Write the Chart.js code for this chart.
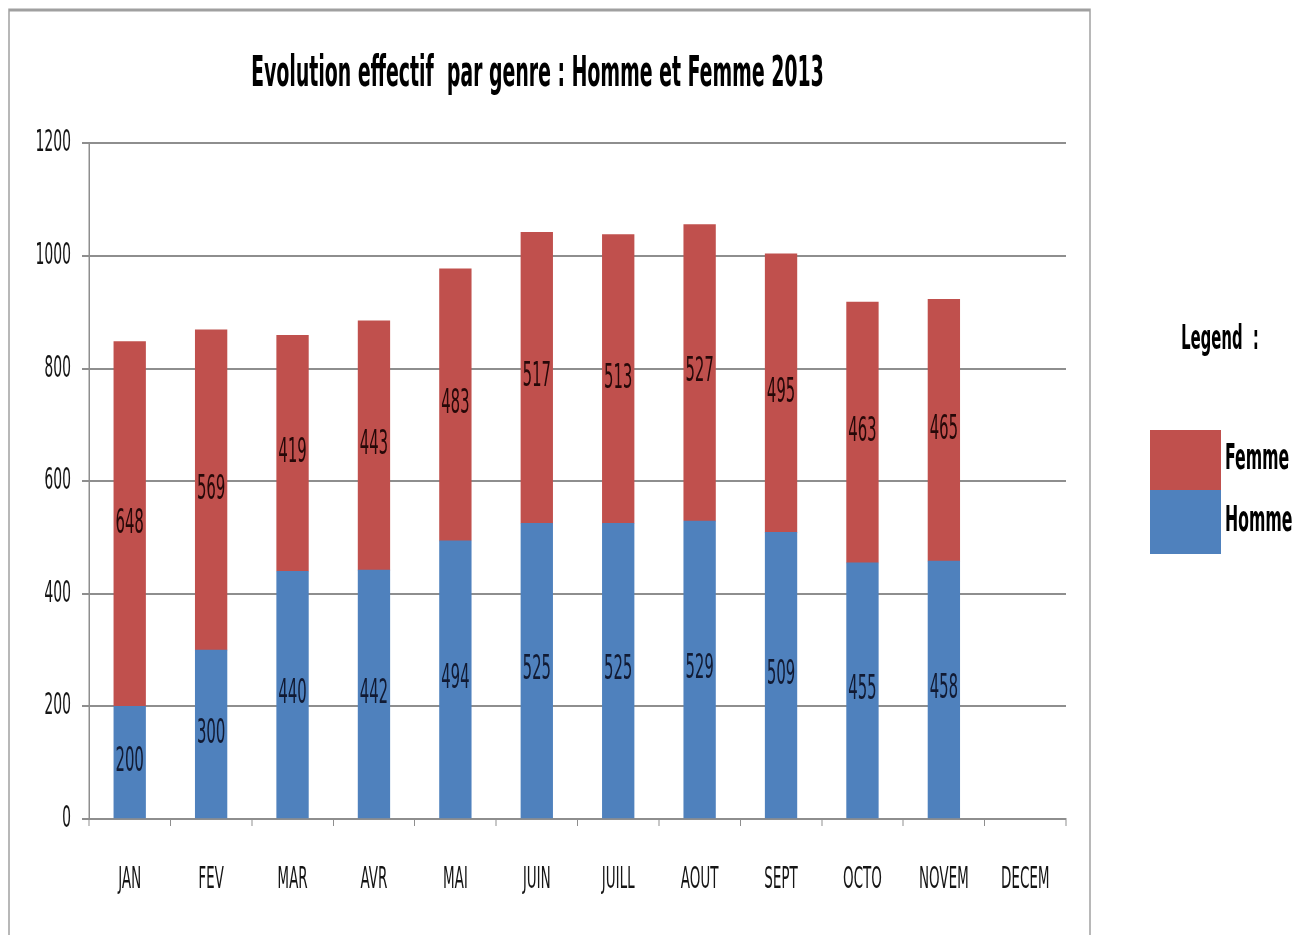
<!DOCTYPE html>
<html>
<head>
<meta charset="utf-8">
<title>Evolution effectif par genre 2013</title>
<script src="https://cdn.jsdelivr.net/npm/chart.js@4/dist/chart.umd.min.js"></script>
<style>
  body { margin: 0; background: #fff; }
  #wrap { width: 1309px; height: 935px; overflow: hidden; }
  /* the chart is drawn twice as wide and squeezed back, giving tall narrow lettering */
  #chart { display: block; width: 1309px; height: 935px; }
</style>
</head>
<body>
<div id="wrap"><canvas id="chart" width="2618" height="935" style="width:1309px;height:935px"></canvas></div>
<script>
const months = ['JAN', 'FEV', 'MAR', 'AVR', 'MAI', 'JUIN', 'JUILL', 'AOUT', 'SEPT', 'OCTO', 'NOVEM', 'DECEM'];
const homme = [200, 300, 440, 442, 494, 525, 525, 529, 509, 455, 458, null];
const femme = [648, 569, 419, 443, 483, 517, 513, 527, 495, 463, 465, null];
const yTicks = [0, 200, 400, 600, 800, 1000, 1200];

const FONT = '"DejaVu Sans Condensed", "DejaVu Sans", sans-serif';
const GRID = '#8e8e8e';
const SX = 2; // horizontal stretch of the drawing canvas

// outer frame around the chart
const frame = {
    id: 'frame',
    beforeDraw(chart) {
        const c = chart.ctx;
        c.save();
        c.strokeStyle = '#a0a0a0';
        c.lineWidth = 3;
        c.strokeRect(9 * SX, 10, 1081 * SX, 940);
        c.restore();
    }
};

// value written in the middle of each bar segment
const valueLabels = {
    id: 'valueLabels',
    afterDatasetsDraw(chart) {
        const c = chart.ctx;
        c.save();
        c.font = '33px ' + FONT;
        c.textAlign = 'center';
        c.textBaseline = 'middle';
        chart.data.datasets.forEach((ds, i) => {
            chart.getDatasetMeta(i).data.forEach((bar, j) => {
                const v = ds.data[j];
                if (v == null) return;
                c.fillStyle = ds.labelColor;
                c.fillText(v, bar.x, (bar.y + bar.base) / 2);
            });
        });
        c.restore();
    }
};

// legend box on the right, Femme stacked over Homme
const sideLegend = {
    id: 'sideLegend',
    afterDraw(chart) {
        const c = chart.ctx;
        c.save();
        c.fillStyle = '#000';
        c.font = 'bold 33px ' + FONT;
        c.textAlign = 'center';
        c.textBaseline = 'middle';
        c.fillText('Legend  :', 1220 * SX, 340);
        const items = chart.data.datasets.slice().reverse();
        const h = [60, 64];
        let y = 430;
        items.forEach((ds, i) => {
            c.fillStyle = ds.backgroundColor;
            c.fillRect(1150 * SX, y, 71 * SX, h[i]);
            c.fillStyle = '#000';
            c.font = 'bold 35px ' + FONT;
            c.textAlign = 'left';
            c.fillText(ds.label, 1225 * SX, y + h[i] / 2);
            y += h[i];
        });
        c.restore();
    }
};

new Chart(document.getElementById('chart'), {
    type: 'bar',
    data: {
        labels: months,
        datasets: [
            {
                label: 'Homme',
                data: homme,
                backgroundColor: '#4f81bd',
                labelColor: '#111a33',
                barThickness: 32 * SX
            },
            {
                label: 'Femme',
                data: femme,
                backgroundColor: '#c0504d',
                labelColor: '#260808',
                barThickness: 32 * SX
            }
        ]
    },
    options: {
        responsive: false,
        animation: false,
        layout: { padding: { left: 9 * SX, right: 243 * SX, top: 0, bottom: 1 } },
        plugins: {
            legend: { display: false },
            tooltip: { enabled: false },
            title: {
                display: true,
                text: 'Evolution effectif  par genre : Homme et Femme 2013',
                color: '#000',
                font: { family: FONT, size: 42, weight: 'bold' },
                padding: { top: 50, bottom: 43 }
            }
        },
        scales: {
            x: {
                stacked: true,
                grid: { offset: true, drawOnChartArea: false, color: GRID, lineWidth: 2, tickLength: 7 },
                border: { display: true, color: GRID, width: 2 },
                ticks: { color: '#151515', font: { family: FONT, size: 30 }, padding: 36 }
            },
            y: {
                stacked: true,
                min: 0,
                max: 1200,
                afterBuildTicks(scale) { scale.ticks = yTicks.map(v => ({ value: v })); },
                afterFit(scale) { scale.width = 80 * SX; },
                grid: { color: GRID, lineWidth: 2, tickLength: 7 * SX },
                border: { display: true, color: GRID, width: 3 },
                ticks: { color: '#151515', font: { family: FONT, size: 31 }, padding: 11 * SX, callback: v => String(v) }
            }
        }
    },
    plugins: [frame, valueLabels, sideLegend]
});
</script>
</body>
</html>
